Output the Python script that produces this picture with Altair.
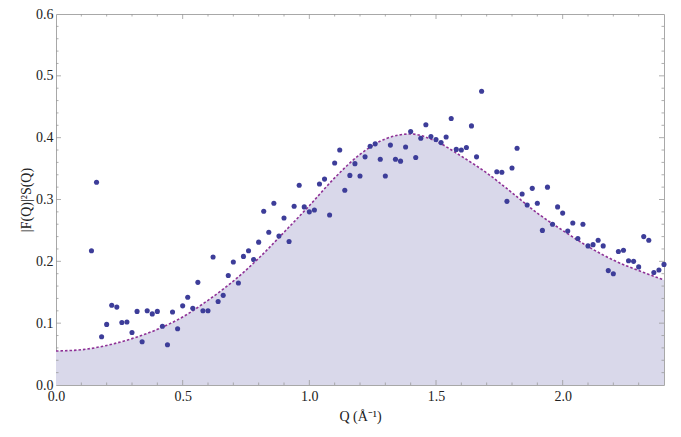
import altair as alt
import pandas as pd

# Fitted curve
curve_q = [0.0, 0.1, 0.2, 0.3, 0.4, 0.5, 0.6, 0.7, 0.8, 0.9, 1.0, 1.1, 1.2,
           1.3, 1.4, 1.5, 1.6, 1.7, 1.8, 1.9, 2.0, 2.1, 2.2, 2.3, 2.4]
curve_v = [0.055, 0.057, 0.064, 0.075, 0.090, 0.110, 0.137, 0.168, 0.205,
           0.247, 0.290, 0.335, 0.373, 0.398, 0.406, 0.394, 0.370, 0.343,
           0.311, 0.278, 0.250, 0.224, 0.202, 0.185, 0.170]

# Measured points
pts_q = [0.14, 0.16, 0.18, 0.20, 0.22, 0.24, 0.26, 0.28, 0.30, 0.32, 0.34,
         0.36, 0.38, 0.40, 0.42, 0.44, 0.46, 0.48, 0.50, 0.52, 0.54, 0.56,
         0.58, 0.60, 0.62, 0.64, 0.66, 0.68, 0.70, 0.72, 0.74, 0.76, 0.78,
         0.80, 0.82, 0.84, 0.86, 0.88, 0.90, 0.92, 0.94, 0.96, 0.98, 1.00,
         1.02, 1.04, 1.06, 1.08, 1.10, 1.12, 1.14, 1.16, 1.18, 1.20, 1.22,
         1.24, 1.26, 1.28, 1.30, 1.32, 1.34, 1.36, 1.38, 1.40, 1.42, 1.44,
         1.46, 1.48, 1.50, 1.52, 1.54, 1.56, 1.58, 1.60, 1.62, 1.64, 1.66,
         1.68, 1.74, 1.76, 1.78, 1.80, 1.82, 1.84, 1.86, 1.88, 1.90, 1.92,
         1.94, 1.96, 1.98, 2.00, 2.02, 2.04, 2.06, 2.08, 2.10, 2.12, 2.14,
         2.16, 2.18, 2.20, 2.22, 2.24, 2.26, 2.28, 2.30, 2.32, 2.34, 2.36,
         2.38, 2.40]
pts_v = [0.217, 0.328, 0.078, 0.098, 0.129, 0.126, 0.101, 0.102, 0.085,
         0.119, 0.070, 0.120, 0.115, 0.119, 0.095, 0.065, 0.118, 0.091,
         0.128, 0.142, 0.124, 0.166, 0.120, 0.120, 0.207, 0.135, 0.145,
         0.177, 0.199, 0.165, 0.208, 0.217, 0.203, 0.231, 0.281, 0.247,
         0.294, 0.241, 0.270, 0.232, 0.289, 0.323, 0.288, 0.280, 0.283,
         0.325, 0.333, 0.275, 0.359, 0.380, 0.315, 0.339, 0.358, 0.338,
         0.369, 0.386, 0.390, 0.365, 0.338, 0.388, 0.365, 0.362, 0.385,
         0.410, 0.368, 0.399, 0.421, 0.402, 0.397, 0.392, 0.401, 0.431,
         0.381, 0.380, 0.384, 0.419, 0.369, 0.475, 0.345, 0.344, 0.297,
         0.351, 0.383, 0.309, 0.291, 0.318, 0.294, 0.250, 0.320, 0.260,
         0.288, 0.278, 0.249, 0.262, 0.237, 0.260, 0.225, 0.227, 0.234,
         0.225, 0.185, 0.180, 0.216, 0.218, 0.201, 0.200, 0.191, 0.240,
         0.234, 0.182, 0.186, 0.195]

x_ticks = [0.0, 0.5, 1.0, 1.5, 2.0]
y_ticks = [0.0, 0.1, 0.2, 0.3, 0.4, 0.5, 0.6]
x_major = [0.5, 1.0, 1.5, 2.0]
x_minor = [0.1, 0.2, 0.3, 0.4, 0.6, 0.7, 0.8, 0.9, 1.1, 1.2, 1.3, 1.4,
           1.6, 1.7, 1.8, 1.9, 2.1, 2.2, 2.3]
y_major = [0.1, 0.2, 0.3, 0.4, 0.5]
y_minor = [0.02, 0.04, 0.06, 0.08, 0.12, 0.14, 0.16, 0.18, 0.22, 0.24,
           0.26, 0.28, 0.32, 0.34, 0.36, 0.38, 0.42, 0.44, 0.46, 0.48,
           0.52, 0.54, 0.56, 0.58]

W, H = 608, 371
FONT = "Liberation Serif"
TICK = "#9a9a9a"

curve = pd.DataFrame({"q": curve_q, "v": curve_v})
pts = pd.DataFrame({"q": pts_q, "v": pts_v})

xs = alt.Scale(domain=[0, 2.4], nice=False, zero=False)
ys = alt.Scale(domain=[0, 0.6], nice=False, zero=False)

X_AXIS = alt.Axis(values=x_ticks, format=".1f", ticks=False, domain=False,
                  grid=False, labelPadding=4, labelFlush=False,
                  titlePadding=6)
Y_AXIS = alt.Axis(values=y_ticks, format=".1f", ticks=False, domain=False,
                  grid=False, labelPadding=3, labelFlush=False,
                  titlePadding=2)
XT = "Q (Å⁻¹)"
YT = "|F(Q)|²S(Q)"

area = alt.Chart(curve).mark_area(
    interpolate="monotone", color="#d9d8ea", opacity=1
).encode(
    x=alt.X("q:Q", scale=xs, title=XT, axis=X_AXIS),
    y=alt.Y("v:Q", scale=ys, title=YT, axis=Y_AXIS),
)

line = alt.Chart(curve).mark_line(
    interpolate="monotone", color="#8e3196", strokeWidth=1.6,
    strokeDash=[2.5, 2]
).encode(x=alt.X("q:Q", title=XT), y=alt.Y("v:Q", title=YT))

points = alt.Chart(pts).mark_circle(
    size=26, color="#3d3d99", opacity=1
).encode(x=alt.X("q:Q", title=XT), y=alt.Y("v:Q", title=YT))


def xticks(vals, length):
    df = pd.DataFrame({"q": vals})
    bot = alt.Chart(df).mark_rule(color=TICK, strokeWidth=0.8).encode(
        x=alt.X("q:Q", title=XT), y=alt.value(H), y2=alt.value(H - length))
    top = alt.Chart(df).mark_rule(color=TICK, strokeWidth=0.8).encode(
        x=alt.X("q:Q", title=XT), y=alt.value(0), y2=alt.value(length))
    return [bot, top]


def yticks(vals, length):
    df = pd.DataFrame({"v": vals})
    left = alt.Chart(df).mark_rule(color=TICK, strokeWidth=0.8).encode(
        y=alt.Y("v:Q", title=YT), x=alt.value(0), x2=alt.value(length))
    right = alt.Chart(df).mark_rule(color=TICK, strokeWidth=0.8).encode(
        y=alt.Y("v:Q", title=YT), x=alt.value(W), x2=alt.value(W - length))
    return [left, right]


layers = [area, line, points]
layers += xticks(x_major, 5) + xticks(x_minor, 2.5)
layers += yticks(y_major, 5) + yticks(y_minor, 2.5)

chart = alt.layer(*layers).properties(
    width=W, height=H,
    background="white",
    autosize=alt.AutoSizeParams(type="none"),
    padding={"left": 48, "top": 6, "right": 9, "bottom": 44},
).configure_view(
    stroke="#a8a8a8", strokeWidth=1
).configure_axis(
    labelFont=FONT, labelFontSize=14, labelColor="#222",
    titleFont=FONT, titleFontSize=14, titleFontWeight="normal",
    titleColor="#222"
)

chart.save("out.html", embed_options={"renderer": "svg", "actions": False})
